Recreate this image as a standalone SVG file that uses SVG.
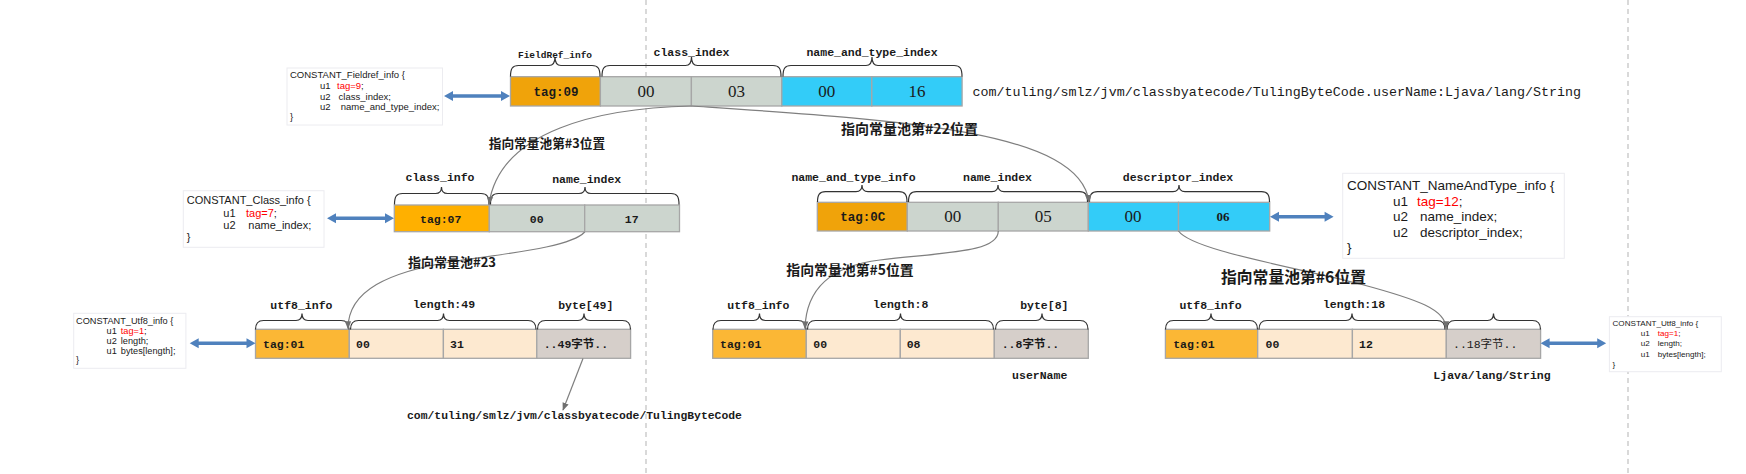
<svg xmlns="http://www.w3.org/2000/svg" width="1746" height="474" viewBox="0 0 1746 474">
<style>
.cell{stroke:#a6a6a6;stroke-width:1.3}
.or1{fill:#f0a30a}.or2{fill:#ffb000}.or3{fill:#fbb735}
.gr{fill:#ccd5ce}.bl{fill:#33ccf8}.pe{fill:#fde9d0}.by{fill:#d6cfca}
.br{fill:none;stroke:#333;stroke-width:1.2}
.lbl{font-family:"Liberation Mono","Noto Sans CJK SC",monospace;font-weight:bold;font-size:11.5px;fill:#1a1a1a;text-anchor:middle}
.tag{font-family:"Liberation Mono",monospace;font-weight:bold;fill:#1a1a1a;text-anchor:middle}
.num{font-family:"Liberation Serif",serif;font-size:17px;fill:#1a1a1a;text-anchor:middle}
.val{font-family:"Liberation Mono","Noto Sans CJK SC",monospace;font-weight:bold;font-size:11.5px;fill:#1a1a1a}
.cn{font-family:"Noto Sans CJK SC",sans-serif;font-weight:bold;fill:#1a1a1a;text-anchor:middle}
.info{font-family:"Liberation Sans",sans-serif;fill:#1a1a1a}
.ibox{fill:#fff;stroke:#ececf0;stroke-width:1}
.red{fill:#ff0000}
.dash{stroke:#b3b3b3;stroke-width:1;stroke-dasharray:5 4}
.arr{fill:#4f81bd}
.con{fill:none;stroke:#7f7f7f;stroke-width:1.2}
</style>
<defs>
<marker id="ah" viewBox="0 0 10 10" refX="9" refY="5" markerWidth="8" markerHeight="8" markerUnits="userSpaceOnUse" orient="auto"><path d="M0,1 L10,5 L0,9 z" fill="#707070"/></marker>
</defs>
<rect width="1746" height="474" fill="#fff"/>
<line class="dash" x1="646" y1="0" x2="646" y2="474"/>
<line class="dash" x1="1628" y1="0" x2="1628" y2="474"/>

<!-- Fieldref row -->
<g id="fieldref">
<rect class="cell or1" x="510.5" y="76.7" width="89.9" height="29.3"/>
<rect class="cell gr" x="600.4" y="76.7" width="91" height="29.3"/>
<rect class="cell gr" x="691.4" y="76.7" width="90.4" height="29.3"/>
<rect class="cell bl" x="781.8" y="76.7" width="90" height="29.3"/>
<rect class="cell bl" x="871.8" y="76.7" width="90.3" height="29.3"/>
<path class="br" d="M510.5,76.5 C510.5,68.5 512.5,65.5 518.5,65.5 L549,65.5 C553,65.5 555,63.5 555,57 C555,63.5 557,65.5 561,65.5 L592,65.5 C598,65.5 600,68.5 600,76.5"/>
<path class="br" d="M602,76.5 C602,68.5 604,65.5 610,65.5 L685.5,65.5 C689.5,65.5 691.5,63.5 691.5,57 C691.5,63.5 693.5,65.5 697.5,65.5 L773,65.5 C779,65.5 781,68.5 781,76.5"/>
<path class="br" d="M783,76.5 C783,68.5 785,65.5 791,65.5 L866,65.5 C870,65.5 872,63.5 872,57 C872,63.5 874,65.5 878,65.5 L954,65.5 C960,65.5 962,68.5 962,76.5"/>
<text class="lbl" x="555" y="57.5" style="font-size:9.5px">FieldRef_info</text>
<text class="lbl" x="691.5" y="56">class_index</text>
<text class="lbl" x="872" y="56">name_and_type_index</text>
<text class="tag" x="556" y="95.5" style="font-size:12.5px">tag:09</text>
<text class="num" x="645.9" y="96.6">00</text>
<text class="num" x="736.6" y="96.6">03</text>
<text class="num" x="826.8" y="96.6">00</text>
<text class="num" x="917" y="96.6">16</text>
<text x="972.5" y="96" style="font-family:'Liberation Mono',monospace;font-size:13.35px;fill:#1a1a1a">com/tuling/smlz/jvm/classbyatecode/TulingByteCode.userName:Ljava/lang/String</text>
</g>

<g id="info-fieldref">
<rect class="ibox" x="287" y="68" width="155.5" height="57"/>
<text class="info" style="font-size:9.5px" x="290" y="77.8">CONSTANT_Fieldref_info {</text>
<text class="info" style="font-size:9.5px" x="320" y="88.8">u1</text>
<text class="info" style="font-size:9.5px" x="337" y="88.8"><tspan class="red">tag=9</tspan>;</text>
<text class="info" style="font-size:9.5px" x="320" y="99.5">u2</text>
<text class="info" style="font-size:9.5px" x="338.6" y="99.5">class_index;</text>
<text class="info" style="font-size:9.5px" x="320" y="110.2">u2</text>
<text class="info" style="font-size:9.5px" x="340.7" y="110.2">name_and_type_index;</text>
<text class="info" style="font-size:9.5px" x="290" y="120.2">}</text>
</g>
<polygon id="arrow-fieldref" class="arr" points="444,96 453,91 453,94.2 501,94.2 501,91 510,96 501,101 501,97.8 453,97.8 453,101"/>

<!-- Class_info row -->
<g id="classinfo">
<rect class="cell or2" x="394.3" y="205" width="95" height="26.7"/>
<rect class="cell gr" x="489.3" y="205" width="95.4" height="26.7"/>
<rect class="cell gr" x="584.7" y="205" width="94.8" height="26.7"/>
<path class="br" d="M394.5,204.5 C394.5,196.5 396.5,193.5 402.5,193.5 L435.5,193.5 C439.5,193.5 441.5,191.5 441.5,187 C441.5,191.5 443.5,193.5 447.5,193.5 L481,193.5 C487,193.5 489,196.5 489,204.5"/>
<path class="br" d="M490.5,204.5 C490.5,196.5 492.5,193.5 498.5,193.5 L579,193.5 C583,193.5 585,191.5 585,187 C585,191.5 587,193.5 591,193.5 L671,193.5 C677,193.5 679,196.5 679,204.5"/>
<text class="lbl" x="440" y="181">class_info</text>
<text class="lbl" x="586.7" y="183">name_index</text>
<text class="tag" x="440.7" y="223" style="font-size:11.5px">tag:07</text>
<text class="tag" x="536.7" y="223" style="font-size:11.5px">00</text>
<text class="tag" x="631.7" y="223" style="font-size:11.5px">17</text>
</g>
<g id="info-class">
<rect class="ibox" x="183.3" y="190.7" width="140.7" height="56.6"/>
<text class="info" style="font-size:11px" x="186.7" y="204">CONSTANT_Class_info {</text>
<text class="info" style="font-size:11px" x="223.3" y="216.7">u1</text>
<text class="info red" style="font-size:11px" x="246" y="216.7">tag=7<tspan fill="#1a1a1a">;</tspan></text>
<text class="info" style="font-size:11px" x="223.3" y="229">u2</text>
<text class="info" style="font-size:11px" x="248.3" y="229">name_index;</text>
<text class="info" style="font-size:11px" x="186.7" y="240.7">}</text>
</g>
<polygon id="arrow-class" class="arr" points="327,218.3 336,213.3 336,216.5 385,216.5 385,213.3 394,218.3 385,223.3 385,220.1 336,220.1 336,223.3"/>

<!-- NameAndType row -->
<g id="nameandtype">
<rect class="cell or1" x="817.3" y="202.3" width="90" height="28.7"/>
<rect class="cell gr" x="907.3" y="202.3" width="91" height="28.7"/>
<rect class="cell gr" x="998.3" y="202.3" width="90" height="28.7"/>
<rect class="cell bl" x="1088.3" y="202.3" width="90.2" height="28.7"/>
<rect class="cell bl" x="1178.5" y="202.3" width="91.2" height="28.7"/>
<path class="br" d="M817.5,202 C817.5,194.7 819.5,191.7 825.5,191.7 L856,191.7 C860,191.7 862,189.7 862,185 C862,189.7 864,191.7 868,191.7 L899,191.7 C905,191.7 907,194.7 907,202"/>
<path class="br" d="M908.5,202 C908.5,194.7 910.5,191.7 916.5,191.7 L992,191.7 C996,191.7 998,189.7 998,185 C998,189.7 1000,191.7 1004,191.7 L1079.5,191.7 C1085.5,191.7 1087.5,194.7 1087.5,202"/>
<path class="br" d="M1089.5,202 C1089.5,194.7 1091.5,191.7 1097.5,191.7 L1173,191.7 C1177,191.7 1179,189.7 1179,185 C1179,189.7 1181,191.7 1185,191.7 L1261.5,191.7 C1267.5,191.7 1269.5,194.7 1269.5,202"/>
<text class="lbl" x="853.5" y="180.5">name_and_type_info</text>
<text class="lbl" x="997.5" y="180.5">name_index</text>
<text class="lbl" x="1178" y="180.5">descriptor_index</text>
<text class="tag" x="862.7" y="221" style="font-size:12.5px">tag:0C</text>
<text class="num" x="952.7" y="222.3">00</text>
<text class="num" x="1043.3" y="222.3">05</text>
<text class="num" x="1133" y="222.3">00</text>
<text x="1223" y="221" style="font-family:'Liberation Serif',serif;font-weight:bold;font-size:13px;fill:#1a1a1a;text-anchor:middle">06</text>
</g>
<polygon id="arrow-nat" class="arr" points="1270,216.7 1279,211.7 1279,214.9 1324.6,214.9 1324.6,211.7 1333.6,216.7 1324.6,221.7 1324.6,218.5 1279,218.5 1279,221.7"/>
<g id="info-nat">
<rect class="ibox" x="1342.7" y="173.3" width="221.6" height="85"/>
<text class="info" style="font-size:13.5px" x="1347" y="190">CONSTANT_NameAndType_info {</text>
<text class="info" style="font-size:13.5px" x="1393" y="205.7">u1</text>
<text class="info red" style="font-size:13.5px" x="1417" y="205.7">tag=12<tspan fill="#1a1a1a">;</tspan></text>
<text class="info" style="font-size:13.5px" x="1393" y="221">u2</text>
<text class="info" style="font-size:13.5px" x="1420" y="221">name_index;</text>
<text class="info" style="font-size:13.5px" x="1393" y="236.7">u2</text>
<text class="info" style="font-size:13.5px" x="1420" y="236.7">descriptor_index;</text>
<text class="info" style="font-size:13.5px" x="1347" y="252.3">}</text>
</g>

<!-- Utf8 left -->
<g id="utf8-classname">
<rect class="cell or3" x="255.5" y="329.3" width="93.8" height="29"/>
<rect class="cell pe" x="349.3" y="329.3" width="94.1" height="29"/>
<rect class="cell pe" x="443.4" y="329.3" width="93.4" height="29"/>
<rect class="cell by" x="536.8" y="329.3" width="93.8" height="29"/>
<path class="br" d="M255.5,329.5 C255.5,323.5 257.5,320.5 263.5,320.5 L296,320.5 C300,320.5 302,318.5 302,313.5 C302,318.5 304,320.5 308,320.5 L341,320.5 C347,320.5 349,323.5 349,329.5"/>
<path class="br" d="M350.5,329.5 C350.5,323.5 352.5,320.5 358.5,320.5 L437.5,320.5 C441.5,320.5 443.5,318.5 443.5,313.5 C443.5,318.5 445.5,320.5 449.5,320.5 L528,320.5 C534,320.5 536,323.5 536,329.5"/>
<path class="br" d="M537.5,329.5 C537.5,323.5 539.5,320.5 545.5,320.5 L578,320.5 C582,320.5 584,318.5 584,313.5 C584,318.5 586,320.5 590,320.5 L622.5,320.5 C628.5,320.5 630.5,323.5 630.5,329.5"/>
<text class="lbl" x="301.4" y="309">utf8_info</text>
<text class="lbl" x="444" y="308">length:49</text>
<text class="lbl" x="585.8" y="309">byte[49]</text>
<text class="val" x="263" y="347.5">tag:01</text>
<text class="val" x="356" y="347.5">00</text>
<text class="val" x="450" y="347.5">31</text>
<text class="val" x="543.7" y="347.5">..49字节..</text>
</g>
<polygon id="arrow-utf8a" class="arr" points="189.7,343.3 198.7,338.3 198.7,341.5 246.5,341.5 246.5,338.3 255.5,343.3 246.5,348.3 246.5,345.1 198.7,345.1 198.7,348.3"/>
<g id="info-utf8a">
<rect class="ibox" x="73.7" y="313.3" width="112.2" height="55"/>
<text class="info" style="font-size:9.2px" x="76" y="324">CONSTANT_Utf8_info {</text>
<text class="info" style="font-size:9.2px" x="106.6" y="333.7">u1</text>
<text class="info red" style="font-size:9.2px" x="120.8" y="333.7">tag=1<tspan fill="#1a1a1a">;</tspan></text>
<text class="info" style="font-size:9.2px" x="106.6" y="343.7">u2</text>
<text class="info" style="font-size:9.2px" x="120.8" y="343.7">length;</text>
<text class="info" style="font-size:9.2px" x="106.6" y="353.7">u1</text>
<text class="info" style="font-size:9.2px" x="120.8" y="353.7">bytes[length];</text>
<text class="info" style="font-size:9.2px" x="76" y="363">}</text>
</g>
<text x="574.5" y="418.7" style="font-family:'Liberation Mono',monospace;font-weight:bold;font-size:11.4px;fill:#1a1a1a;text-anchor:middle">com/tuling/smlz/jvm/classbyatecode/TulingByteCode</text>

<!-- Utf8 middle -->
<g id="utf8-name">
<rect class="cell or3" x="712.7" y="329.3" width="93.6" height="29"/>
<rect class="cell pe" x="806.3" y="329.3" width="94" height="29"/>
<rect class="cell pe" x="900.3" y="329.3" width="94" height="29"/>
<rect class="cell by" x="994.3" y="329.3" width="94" height="29"/>
<path class="br" d="M713,329.5 C713,323.5 715,320.5 721,320.5 L753.5,320.5 C757.5,320.5 759.5,318.5 759.5,313.5 C759.5,318.5 761.5,320.5 765.5,320.5 L798,320.5 C804,320.5 806,323.5 806,329.5"/>
<path class="br" d="M807.5,329.5 C807.5,323.5 809.5,320.5 815.5,320.5 L894.5,320.5 C898.5,320.5 900.5,318.5 900.5,313.5 C900.5,318.5 902.5,320.5 906.5,320.5 L985.5,320.5 C991.5,320.5 993.5,323.5 993.5,329.5"/>
<path class="br" d="M995.5,329.5 C995.5,323.5 997.5,320.5 1003.5,320.5 L1036,320.5 C1040,320.5 1042,318.5 1042,313.5 C1042,318.5 1044,320.5 1048,320.5 L1080,320.5 C1086,320.5 1088,323.5 1088,329.5"/>
<text class="lbl" x="758.3" y="309">utf8_info</text>
<text class="lbl" x="900.7" y="308">length:8</text>
<text class="lbl" x="1044.3" y="309">byte[8]</text>
<text class="val" x="720" y="347.5">tag:01</text>
<text class="val" x="813.3" y="347.5">00</text>
<text class="val" x="906.7" y="347.5">08</text>
<text class="val" x="1001.7" y="347.5">..8字节..</text>
<text class="lbl" x="1039.7" y="379.3">userName</text>
</g>

<!-- Utf8 right -->
<g id="utf8-descriptor">
<rect class="cell or3" x="1165.4" y="329.3" width="92.3" height="29"/>
<rect class="cell pe" x="1257.7" y="329.3" width="94.7" height="29"/>
<rect class="cell pe" x="1352.4" y="329.3" width="93.9" height="29"/>
<rect class="cell by" x="1446.3" y="329.3" width="94.3" height="29"/>
<path class="br" d="M1165.5,329.5 C1165.5,323.5 1167.5,320.5 1173.5,320.5 L1205,320.5 C1209,320.5 1211,318.5 1211,313.5 C1211,318.5 1213,320.5 1217,320.5 L1249.5,320.5 C1255.5,320.5 1257.5,323.5 1257.5,329.5"/>
<path class="br" d="M1259,329.5 C1259,323.5 1261,320.5 1267,320.5 L1346,320.5 C1350,320.5 1352,318.5 1352,313.5 C1352,318.5 1354,320.5 1358,320.5 L1437,320.5 C1443,320.5 1445,323.5 1445,329.5"/>
<path class="br" d="M1447,329.5 C1447,323.5 1449,320.5 1455,320.5 L1487.5,320.5 C1491.5,320.5 1493.5,318.5 1493.5,313.5 C1493.5,318.5 1495.5,320.5 1499.5,320.5 L1532.5,320.5 C1538.5,320.5 1540.5,323.5 1540.5,329.5"/>
<text class="lbl" x="1210.5" y="309">utf8_info</text>
<text class="lbl" x="1354" y="308">length:18</text>
<text class="val" x="1173.2" y="347.5">tag:01</text>
<text class="val" x="1265.6" y="347.5">00</text>
<text class="val" x="1359" y="347.5">12</text>
<text class="val" x="1453" y="347.5" style="font-weight:normal">..18字节..</text>
<text class="lbl" x="1492" y="379.3">Ljava/lang/String</text>
</g>
<polygon id="arrow-utf8b" class="arr" points="1540.6,343.3 1549.6,338.3 1549.6,341.5 1597.2,341.5 1597.2,338.3 1606.2,343.3 1597.2,348.3 1597.2,345.1 1549.6,345.1 1549.6,348.3"/>
<g id="info-utf8b">
<rect class="ibox" x="1609.4" y="316.7" width="111.9" height="55"/>
<text class="info" style="font-size:8.1px" x="1612.5" y="326.3">CONSTANT_Utf8_info {</text>
<text class="info" style="font-size:8.1px" x="1640.8" y="336.3">u1</text>
<text class="info red" style="font-size:8.1px" x="1657.7" y="336.3">tag=1<tspan fill="#1a1a1a">;</tspan></text>
<text class="info" style="font-size:8.1px" x="1640.8" y="346.3">u2</text>
<text class="info" style="font-size:8.1px" x="1657.7" y="346.3">length;</text>
<text class="info" style="font-size:8.1px" x="1640.8" y="357">u1</text>
<text class="info" style="font-size:8.1px" x="1657.7" y="357">bytes[length];</text>
<text class="info" style="font-size:8.1px" x="1612.5" y="367">}</text>
</g>

<!-- connectors -->
<g id="connectors">
<path class="con" marker-end="url(#ah)" d="M691.4,106 C600,108 500,130 489,204"/>
<path class="con" marker-end="url(#ah)" d="M691.4,106 C900,120 1080,130 1089,202"/>
<path class="con" marker-end="url(#ah)" d="M584.7,232 C570,248 500,254 450,262 C390,272 348,290 348,328.5"/>
<path class="con" marker-end="url(#ah)" d="M998.3,231 C998,252 950,252 880,260 C830,266 806,290 805,328.5"/>
<path class="con" marker-end="url(#ah)" d="M1178.5,231 C1192,250 1290,266 1360,284 C1420,300 1446,310 1446,328.5"/>
<path class="con" marker-end="url(#ah)" d="M583,358.5 L563,410"/>
</g>
<g id="connector-labels">
<text class="cn" x="547" y="148" style="font-size:12.7px">指向常量池第#3位置</text>
<text class="cn" x="909.5" y="134" style="font-size:14px">指向常量池第#22位置</text>
<text class="cn" x="452" y="267" style="font-size:13px">指向常量池#23</text>
<text class="cn" x="850" y="275" style="font-size:13.9px">指向常量池第#5位置</text>
<text class="cn" x="1293.5" y="282.5" style="font-size:15.8px">指向常量池第#6位置</text>
</g>
</svg>
